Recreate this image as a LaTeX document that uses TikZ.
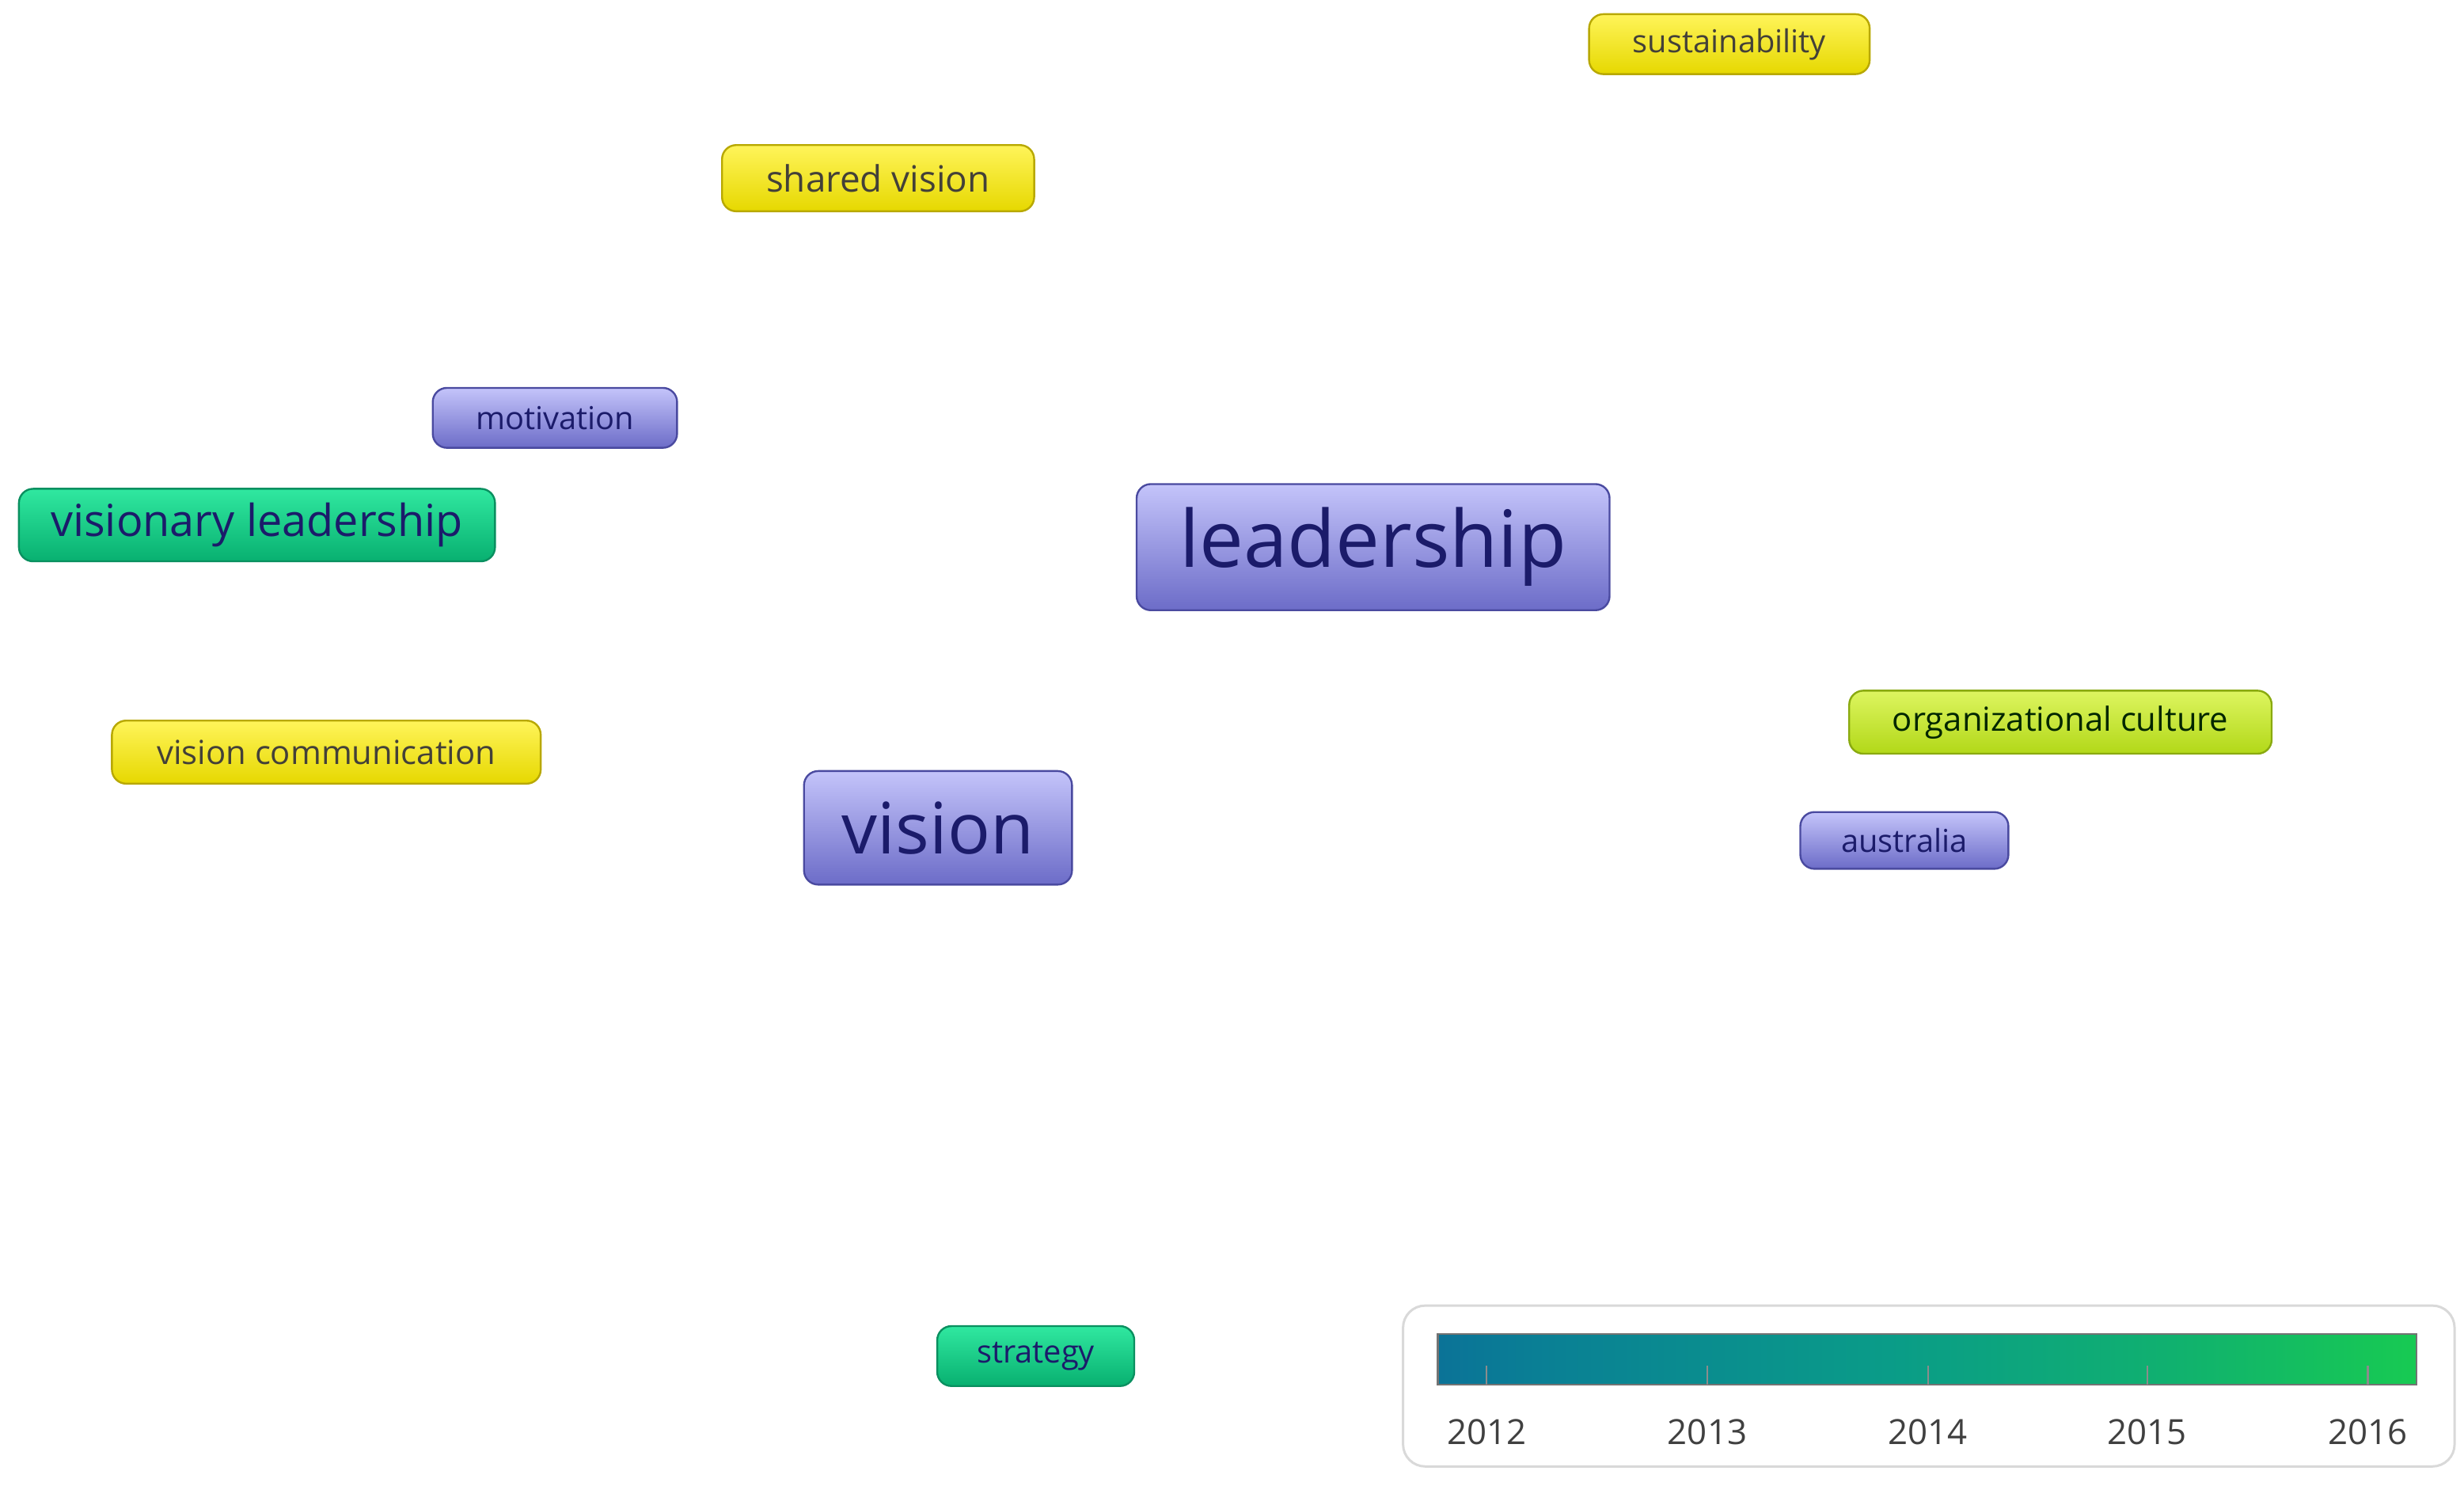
\documentclass[tikz,border=0pt]{standalone}
\usepackage{fontspec}
\setmainfont{Open Sans}
\usetikzlibrary{backgrounds}
\definecolor{txtblue}{HTML}{1B1B6A}
\definecolor{ptop}{HTML}{C4C4FA}\definecolor{pbot}{HTML}{6C6CC8}\definecolor{pdraw}{HTML}{4A4AA0}
\definecolor{gtop}{HTML}{30E8A0}\definecolor{gbot}{HTML}{08B070}\definecolor{gdraw}{HTML}{0A9060}
\definecolor{ytop}{HTML}{FFF45A}\definecolor{ybot}{HTML}{E6D800}\definecolor{ydraw}{HTML}{B8A800}
\definecolor{otop}{HTML}{DDF560}\definecolor{obot}{HTML}{B2D818}\definecolor{odraw}{HTML}{8AAA10}
\definecolor{ePur}{HTML}{A9A2F0}\definecolor{eYel}{HTML}{EEEAA0}\definecolor{eTeal}{HTML}{8CCFD0}
\definecolor{eGrey}{HTML}{CFCFC8}\definecolor{eGreen}{HTML}{7FE6B8}\definecolor{eYG}{HTML}{D8EDA0}
\definecolor{eBT}{HTML}{9CC0DC}
\definecolor{sA}{HTML}{3E3A8E}\definecolor{sB}{HTML}{0C5A9C}\definecolor{sC}{HTML}{0A7F95}
\definecolor{sD}{HTML}{0A9C88}\definecolor{sE}{HTML}{10B070}\definecolor{sF}{HTML}{18CC50}
\definecolor{sG}{HTML}{90D820}\definecolor{sH}{HTML}{F6E400}
\pgfdeclarehorizontalshading{years}{100bp}{color(0bp)=(sA);color(15bp)=(sB);color(30bp)=(sC);color(48bp)=(sD);color(62bp)=(sE);color(76bp)=(sF);color(86bp)=(sG);color(100bp)=(sH)}
\tikzset{
 kw/.style={rounded corners=9pt, line width=1.2pt, inner sep=0pt, text=txtblue, anchor=center},
 pur/.style={kw, top color=ptop, bottom color=pbot, draw=pdraw},
 grn/.style={kw, top color=gtop, bottom color=gbot, draw=gdraw},
 yel/.style={kw, top color=ytop, bottom color=ybot, draw=ydraw, text=black!75!yellow!60!black},
 org/.style={kw, top color=otop, bottom color=obot, draw=odraw, text=black!70!green!50!black},
 ed/.style={line width=1.6pt, opacity=0.9},
}
\begin{document}
\begin{tikzpicture}[x=1pt,y=-1pt]
\useasboundingbox (0,0) rectangle (1563,942);
\fill[white] (0,0) rectangle (1563,942);
\node[yel, minimum width=178, minimum height=38, font=\fontsize{20}{24}\selectfont] (sus) at (1097,28) {sustainability};
\node[yel, minimum width=198, minimum height=42, font=\fontsize{23}{27}\selectfont] (shv) at (557,113) {shared vision};
\node[pur, minimum width=155, minimum height=38, font=\fontsize{20}{24}\selectfont] (mot) at (352,265) {motivation};
\node[grn, minimum width=302, minimum height=46, font=\fontsize{28}{32}\selectfont] (vl) at (163,333) {visionary leadership};
\node[pur, minimum width=300, minimum height=80, font=\fontsize{50}{56}\selectfont] (lead) at (871,347) {leadership};
\node[yel, minimum width=272, minimum height=40, font=\fontsize{21}{25}\selectfont] (vc) at (207,477) {vision communication};
\node[pur, minimum width=170, minimum height=72, font=\fontsize{45}{50}\selectfont] (vis) at (595,525) {vision};
\node[org, minimum width=268, minimum height=40, font=\fontsize{21}{25}\selectfont] (oc) at (1307,458) {organizational culture};
\node[pur, minimum width=132, minimum height=36, font=\fontsize{20}{24}\selectfont] (aus) at (1208,533) {australia};
\node[grn, minimum width=125, minimum height=38, font=\fontsize{20}{24}\selectfont] (str) at (657,860) {strategy};
\begin{pgfonlayer}{background}
\coordinate (s1) at ([xshift=40]sus.south west);
\draw[ed,eGrey!60!eYel] (s1) .. controls (900,110) and (870,240) .. (lead.north);
\coordinate (sv1) at ([xshift=10]shv.south);
\coordinate (sv2) at ([xshift=-12]shv.south);
\draw[ed,eYel] (sv1) .. controls (620,220) and (680,280) .. (lead.150);
\draw[ed,eYel] (sv2) .. controls (480,260) and (510,420) .. (vis.north);
\draw[ed,eYel!70!eGrey] (sv2) .. controls (500,190) and (450,230) .. (mot.north east);
\draw[ed,eTeal] (mot.north) .. controls (500,200) and (720,240) .. (lead.north west);
\coordinate (m1) at ([xshift=30]mot.south);
\coordinate (m2) at ([xshift=55]mot.south);
\coordinate (m3) at ([yshift=10]mot.west);
\coordinate (m4) at ([xshift=-35]mot.south);
\coordinate (m5) at ([xshift=-55]mot.south);
\draw[ed,ePur] (m1) .. controls (500,380) and (650,400) .. (lead.west);
\draw[ed,ePur] (m2) .. controls (500,330) and (560,420) .. (vis.north);
\draw[ed,eGreen] (m3) -- ([xshift=40]vl.north);
\draw[ed,eGrey!70!ePur] (m4) -- (vl.north east);
\draw[ed,eYG] (m5) .. controls (230,350) and (200,420) .. (vc.north);
\coordinate (v1) at ([xshift=20]vl.south);
\draw[ed,eYG] (v1) .. controls (200,390) and (220,420) .. (vc.north);
\draw[ed,eTeal!70!ePur] (vl.east) .. controls (450,360) and (530,430) .. (vis.north west);
\coordinate (vn) at ([xshift=15]vis.north);
\draw[line width=8pt,ePur!70,opacity=0.8] (vn) .. controls (650,430) and (690,400) .. (lead.south west);
\coordinate (vn2) at ([xshift=-35]vis.north east);
\draw[ed,eGrey] (vn2) .. controls (700,450) and (780,410) .. ([xshift=100]lead.south west);
\coordinate (l1) at ([xshift=-50]lead.south);
\draw[ed,eTeal!80!eGreen] (l1) .. controls (700,520) and (620,700) .. (str.north);
\coordinate (v2) at ([xshift=25]vis.south);
\draw[ed,eBT] (v2) .. controls (700,650) and (690,780) .. (str.north);
\coordinate (c1) at ([xshift=70]vc.south);
\coordinate (c2) at ([xshift=30]vc.south);
\draw[ed,eYel!80!eYG] (c1) .. controls (350,525) and (450,520) .. (vis.west);
\draw[ed,eYG!60!eGrey] (c2) .. controls (300,560) and (430,570) .. (vis.south west);
\coordinate (l2) at ([xshift=40]lead.south);
\coordinate (l3) at ([xshift=25]lead.south);
\draw[ed,eGrey!60!eYG] (l2) .. controls (1000,460) and (1100,480) .. (oc.west);
\draw[ed,ePur] (l3) .. controls (960,470) and (1050,525) .. (aus.west);
\draw[ed,eYG] (oc.south) -- (aus.north east);
\draw[ed,ePur!70] (vis.south east) .. controls (760,620) and (1050,660) .. (aus.south west);
\end{pgfonlayer}
\node[draw=black!15, line width=1.5pt, rounded corners=14pt, minimum width=667, minimum height=102, inner sep=0pt] (leg) at (1223.5,879) {};
\node[draw=black!55, line width=1.2pt, shading=years, minimum width=621, minimum height=32, inner sep=0pt] (bar) at (1222.5,862) {};
\foreach \x/\y in {943/2012,1083/2013,1223/2014,1362/2015,1502/2016}{
 \draw[black!45, line width=1.2pt] (\x,878) -- (\x,866);
 \node[text=black!75, font=\fontsize{22}{26}\selectfont] (y\y) at (\x,908) {\y};
}
\end{tikzpicture}
\end{document}
